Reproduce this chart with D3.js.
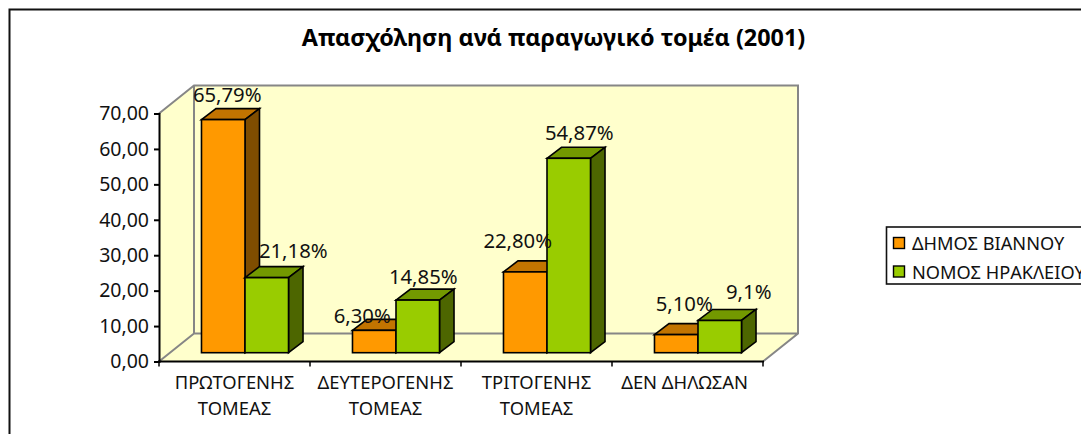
<!DOCTYPE html>
<html><head><meta charset="utf-8">
<script src="https://cdn.jsdelivr.net/npm/d3@7"></script>
<style>html,body{margin:0;padding:0;background:#fff;overflow:hidden}svg{display:block}</style>
</head><body><div id="c"></div>
<script>
const titleText = "Απασχόληση ανά παραγωγικό τομέα (2001)";
const categories = [["ΠΡΩΤΟΓΕΝΗΣ","ΤΟΜΕΑΣ"],["ΔΕΥΤΕΡΟΓΕΝΗΣ","ΤΟΜΕΑΣ"],["ΤΡΙΤΟΓΕΝΗΣ","ΤΟΜΕΑΣ"],["ΔΕΝ ΔΗΛΩΣΑΝ"]];
const seriesNames = ["ΔΗΜΟΣ ΒΙΑΝΝΟΥ","ΝΟΜΟΣ ΗΡΑΚΛΕΙΟΥ"];
const dimosValues = [65.79,6.30,22.80,5.10];
const nomosValues = [21.18,14.85,54.87,9.1];
const dimosLabels = ["65,79%","6,30%","22,80%","5,10%"];
const nomosLabels = ["21,18%","14,85%","54,87%","9,1%"];
const yTicks = [0,10,20,30,40,50,60,70];

const font = "'Noto Sans', sans-serif";
const W=1081,H=434;
const svg=d3.select("#c").append("svg").attr("width",W).attr("height",H);
svg.append("rect").attr("width",W).attr("height",H).attr("fill","#fff");
svg.append("path").attr("d","M9.5,434V9.5H1081").attr("fill","none").attr("stroke","#111").attr("stroke-width",2);

const x=d3.scaleBand().domain(d3.range(4)).range([159,763]);
const y=d3.scaleLinear().domain([0,70]).range([361.5,113.5]);
const x1=d3.scaleBand().domain([0,1]).range([0,x.bandwidth()]).paddingOuter(0.735).paddingInner(0);
const wallDx=35,wallDy=-28, barDx=14.5,barDy=-11, baseDx=10.5,baseDy=-8.8;

const x0=x.range()[0],x9=x.range()[1],y0=y(0),yT=y(70);
const wall="#ffffcc",wallLine="#868686";
const g=svg.append("g");
g.append("path").attr("d",`M${x0},${y0}L${x0+wallDx},${y0+wallDy}L${x9+wallDx},${y0+wallDy}L${x9},${y0}Z`).attr("fill",wall);
g.append("path").attr("d",`M${x0},${y0}L${x0},${yT}L${x0+wallDx},${yT+wallDy}L${x0+wallDx},${y0+wallDy}Z`).attr("fill",wall);
g.append("rect").attr("x",x0+wallDx).attr("y",yT+wallDy).attr("width",x9-x0).attr("height",y0-yT).attr("fill",wall);
g.append("path").attr("d",`M${x0},${yT}L${x0+wallDx},${yT+wallDy}H${x9+wallDx}V${y0+wallDy}L${x9},${y0}M${x0+wallDx},${yT+wallDy}V${y0+wallDy}H${x9+wallDx}M${x0+wallDx},${y0+wallDy}L${x0},${y0}`)
 .attr("fill","none").attr("stroke",wallLine).attr("stroke-width",2);

const yAxis=d3.axisLeft(y).tickValues(yTicks).tickSize(5).tickPadding(5).tickFormat(d=>d3.format(".2f")(d).replace(".",","));
const ga=svg.append("g").attr("transform",`translate(${x0},0)`).call(yAxis);
ga.selectAll("path,line").attr("stroke","#000").attr("stroke-width",2);
ga.selectAll("text").attr("font-family",font).attr("font-size",19.5).attr("fill","#111");
const gx=svg.append("g").attr("transform",`translate(0,${y0})`).call(d3.axisBottom(x).tickSize(0).tickFormat(""));
gx.select("path").attr("stroke","#000").attr("stroke-width",2).attr("d",`M${x0-1},0H${x9+1}`);
gx.selectAll(".tick").remove();
gx.selectAll("line.t").data(d3.range(5)).join("line").attr("class","t")
 .attr("x1",i=>x0+i*x.step()).attr("x2",i=>x0+i*x.step()).attr("y1",0).attr("y2",5).attr("stroke","#000").attr("stroke-width",1.5);
categories.forEach((lines,i)=>{
  const t=svg.append("text").attr("font-family",font).attr("font-size",18.4).attr("fill","#111").attr("text-anchor","middle");
  lines.forEach((l,j)=>t.append("tspan").attr("x",x(i)+x.bandwidth()/2-(i==3?3:0)).attr("y",389+j*26).text(l));
});

const palette=[{f:"#ff9900",t:"#c27400",s:"#7f4d00"},{f:"#99cc00",t:"#739900",s:"#4d6600"}];
const all=[dimosValues,nomosValues], labels=[dimosLabels,nomosLabels];
const nudgeX=[[4,-12,-7.5,8],[26.5,5.5,10.5,29]], nudgeY=[[-7,4,-13,-13],[-9,-5,-7,-10]];
const barsG=svg.append("g"), labelG=svg.append("g");
categories.forEach((_,i)=>{
  [0,1].forEach(s=>{
    const v=all[s][i];
    const bx=x(i)+x1(s)+baseDx, bw=x1.bandwidth();
    const by=y(v)+baseDy, bb=y(0)+baseDy;
    const b=barsG.append("g").attr("stroke","#000").attr("stroke-width",1.6);
    b.append("path").attr("d",`M${bx},${by}L${bx+barDx},${by+barDy}H${bx+bw+barDx}L${bx+bw},${by}Z`).attr("fill",palette[s].t);
    b.append("path").attr("d",`M${bx+bw},${by}L${bx+bw+barDx},${by+barDy}V${bb+barDy}L${bx+bw},${bb}Z`).attr("fill",palette[s].s);
    b.append("rect").attr("x",bx).attr("y",by).attr("width",bw).attr("height",bb-by).attr("fill",palette[s].f);
    labelG.append("text").attr("font-family",font).attr("font-size",20.3).attr("fill","#111").attr("text-anchor","middle")
      .attr("x",bx+bw/2+nudgeX[s][i]).attr("y",by+barDy+nudgeY[s][i]).text(labels[s][i]);
  });
});

svg.append("text").attr("x",553.5).attr("y",46).attr("text-anchor","middle").attr("font-family",font)
 .attr("font-weight","bold").attr("font-size",23.4).attr("fill","#000").text(titleText);

const leg=svg.append("g");
leg.append("rect").attr("x",886.5).attr("y",227).attr("width",210).attr("height",57).attr("fill","#fff").attr("stroke","#111").attr("stroke-width",1.6);
seriesNames.forEach((n,i)=>{
  const cy=243+i*28.5;
  leg.append("rect").attr("x",893.5).attr("y",cy-5.5).attr("width",11).attr("height",11).attr("fill",palette[i].f).attr("stroke","#000").attr("stroke-width",1.4);
  leg.append("text").attr("x",912).attr("y",cy+7).attr("font-family",font).attr("font-size",18.2).attr("fill","#111").text(n);
});
</script></body></html>
